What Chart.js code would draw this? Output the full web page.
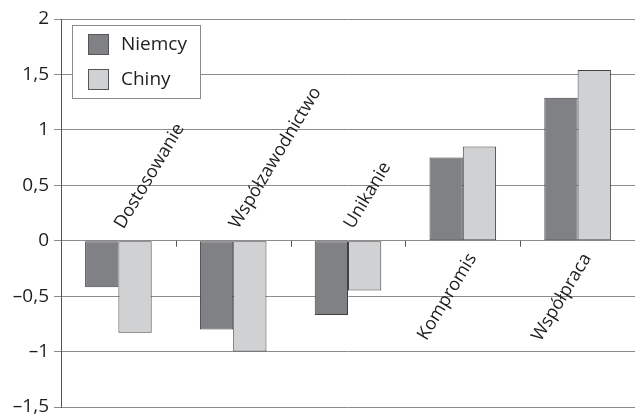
<!DOCTYPE html>
<html>
<head>
<meta charset="utf-8">
<script src="https://cdn.jsdelivr.net/npm/chart.js@4/dist/chart.umd.min.js"></script>
<style>
  html, body { margin: 0; padding: 0; background: #fff; }
  canvas { display: block; }
</style>
</head>
<body>
<canvas id="c" width="635" height="414"></canvas>
<script>
// Conflict-handling styles: Germany vs China
const categories = ['Dostosowanie', 'Współzawodnictwo', 'Unikanie', 'Kompromis', 'Współpraca'];
const niemcy = [-0.42, -0.80, -0.67, 0.75, 1.29];
const chiny  = [-0.83, -1.00, -0.45, 0.85, 1.54];
const seriesNames = ['Niemcy', 'Chiny'];
const yMin = -1.5, yMax = 2, yStep = 0.5;

const FONT = '"Open Sans", "Liberation Sans", sans-serif';
const fillDark = '#808184';
const fillLight = '#d0d1d3';
const edge = '#404040';
const gridColor = '#8c8c8c';
const textColor = '#1e1e1e';

function fmt(v) {
  const s = String(Math.round(v * 10) / 10).replace('.', ',');
  return s.startsWith('-') ? '\u2013' + s.slice(1) : s;
}

// Tick marks on the zero line, rotated category names and the boxed legend
const overlay = {
  id: 'overlay',
  afterDatasetsDraw(chart) {
    const ctx = chart.ctx;
    const xs = chart.scales.x, ys = chart.scales.y;
    const y0 = ys.getPixelForValue(0);
    ctx.save();
    // category separators on the zero line
    ctx.strokeStyle = '#555';
    ctx.lineWidth = 1;
    for (let i = 1; i < categories.length; i++) {
      const x = Math.round((xs.getPixelForValue(i - 1) + xs.getPixelForValue(i)) / 2) + 0.5;
      ctx.beginPath();
      ctx.moveTo(x, y0);
      ctx.lineTo(x, y0 + 6);
      ctx.stroke();
    }
    // category names, placed on the side of the zero line away from the bars
    const ang = -59 * Math.PI / 180;
    ctx.fillStyle = textColor;
    ctx.font = '18px ' + FONT;
    ctx.textBaseline = 'alphabetic';
    categories.forEach((name, i) => {
      const cx = xs.getPixelForValue(i);
      const up = niemcy[i] < 0;
      ctx.save();
      if (up) {
        ctx.translate(cx + 5, y0 - 11);
        ctx.rotate(ang);
        ctx.textAlign = 'left';
      } else {
        ctx.translate(cx + 14, y0 + 17);
        ctx.rotate(ang);
        ctx.textAlign = 'right';
      }
      ctx.fillText(name, 0, 0);
      ctx.restore();
    });
    ctx.restore();
  },
  afterDraw(chart) {
    const ctx = chart.ctx;
    ctx.save();
    // legend frame
    const bx = 72.5, by = 25.5, bw = 128, bh = 73;
    ctx.fillStyle = '#fff';
    ctx.fillRect(bx, by, bw, bh);
    ctx.strokeStyle = '#8a8a8a';
    ctx.lineWidth = 1;
    ctx.strokeRect(bx, by, bw, bh);
    ctx.font = '19px ' + FONT;
    ctx.textBaseline = 'middle';
    ctx.textAlign = 'left';
    chart.data.datasets.forEach((ds, i) => {
      const sy = 34.5 + i * 35;
      ctx.fillStyle = ds.backgroundColor;
      ctx.fillRect(88.5, sy, 20, 20);
      ctx.strokeStyle = '#555';
      ctx.strokeRect(88.5, sy, 20, 20);
      ctx.fillStyle = textColor;
      ctx.fillText(ds.label, 121, sy + 10);
    });
    ctx.restore();
  }
};

document.fonts.load('19px "Open Sans"').finally(() => {
  new Chart(document.getElementById('c'), {
    type: 'bar',
    data: {
      labels: categories,
      datasets: [
        { label: seriesNames[0], data: niemcy, backgroundColor: fillDark, borderColor: edge, borderWidth: 1, borderSkipped: false },
        { label: seriesNames[1], data: chiny, backgroundColor: fillLight, borderColor: edge, borderWidth: 1, borderSkipped: false }
      ]
    },
    options: {
      responsive: false,
      animation: false,
      devicePixelRatio: 1,
      layout: { padding: { top: 19, bottom: 7, left: 0, right: 0 } },
      categoryPercentage: 0.58,
      barPercentage: 1.0,
      plugins: { legend: { display: false }, tooltip: { enabled: false } },
      scales: {
        x: { display: false, offset: true },
        y: {
          min: yMin, max: yMax,
          ticks: {
            stepSize: yStep,
            color: textColor,
            padding: 5,
            font: { family: FONT, size: 19 },
            callback: (v) => fmt(v)
          },
          grid: { color: gridColor, lineWidth: 1, tickLength: 7, drawTicks: true },
          border: { color: '#555', width: 1 },
          afterFit(scale) {
            scale.width = 61;
            scale.paddingTop = 0;
            scale.paddingBottom = 0;
          }
        }
      }
    },
    plugins: [overlay]
  });
});
</script>
</body>
</html>
